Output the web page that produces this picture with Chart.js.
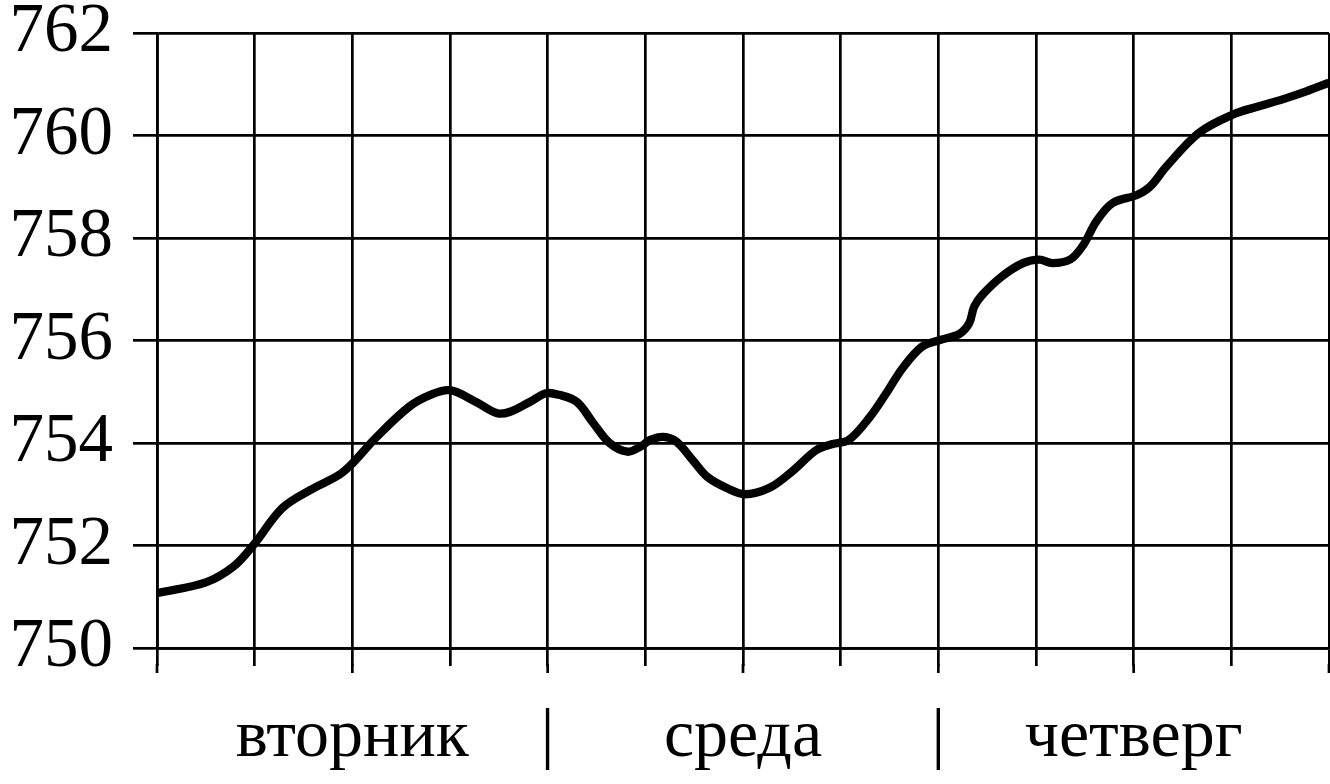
<!DOCTYPE html>
<html>
<head>
<meta charset="utf-8">
<script src="https://cdn.jsdelivr.net/npm/chart.js@4/dist/chart.umd.min.js"></script>
<style>
  html, body { margin: 0; padding: 0; background: #fff; }
  #wrap { width: 1330px; height: 784px; }
</style>
</head>
<body>
<div id="wrap"><canvas id="pressureChart"></canvas></div>
<script>
// Давление (мм рт. ст.) по часам, начиная с 0 ч вторника
const hours = [0, 3, 4.7, 5.9, 7.7, 9.4, 11.2, 12, 13.5, 15.5, 16.8, 18, 19.6, 20.9, 21.7, 22.9, 23.9,
  24.7, 25.8, 26.8, 27.8, 28.9, 29.7, 30.3, 31.1, 31.9, 32.9, 33.8, 35, 36.1, 37.6, 39, 40.5, 41.5,
  42.5, 43.8, 44.8, 45.8, 47, 48.1, 49.3, 49.9, 50.2, 50.7, 51.9, 53.2, 54.2, 55, 56.1, 56.9, 57.7,
  58.7, 60.2, 61, 62, 64, 66.1, 67.7, 69.1, 70.6, 72];
const pressure = [751.07, 751.28, 751.59, 752.0, 752.73, 753.08, 753.38, 753.6, 754.12, 754.71, 754.94,
  755.03, 754.8, 754.58, 754.61, 754.8, 754.97, 754.94, 754.8, 754.39, 754.0, 753.83, 753.93, 754.06,
  754.12, 754.03, 753.67, 753.34, 753.12, 753.0, 753.12, 753.44, 753.86, 753.98, 754.06, 754.51,
  754.97, 755.46, 755.88, 756.01, 756.13, 756.34, 756.66, 756.89, 757.25, 757.51, 757.58, 757.51,
  757.58, 757.86, 758.32, 758.68, 758.84, 759.0, 759.39, 760.05, 760.41, 760.57, 760.7, 760.86, 761.03];

// подписи по оси X
const dayNames = ['вторник', 'среда', 'четверг'];
const dayMiddles = [12, 36, 60];
const daySeparators = [24, 48];

const FONT = '"Liberation Serif", "Times New Roman", serif';

// длинные засечки на каждом втором делении оси X
const longTicks = {
    id: 'longTicks',
    afterDraw(chart) {
        const sx = chart.scales.x;
        const ctx = chart.ctx;
        const bottom = chart.chartArea.bottom;
        ctx.save();
        ctx.strokeStyle = '#000';
        ctx.lineWidth = 2.7;
        sx.ticks.forEach((t, i) => {
            if (i % 2 !== 0) return;
            const px = sx.getPixelForValue(t.value);
            ctx.beginPath();
            ctx.moveTo(px, bottom + 16);
            ctx.lineTo(px, bottom + 25);
            ctx.stroke();
        });
        ctx.restore();
    }
};

new Chart(document.getElementById('pressureChart'), {
    type: 'line',
    data: {
        datasets: [{
            data: hours.map((h, i) => ({ x: h, y: pressure[i] })),
            borderColor: '#000',
            borderWidth: 8.3,
            pointRadius: 0,
            tension: 0.35,
            fill: false
        }]
    },
    options: {
        responsive: true,
        maintainAspectRatio: false,
        animation: false,
        layout: { padding: { top: 33, right: 1, bottom: 0, left: 0 } },
        plugins: { legend: { display: false }, tooltip: { enabled: false } },
        scales: {
            x: {
                type: 'linear',
                min: 0,
                max: 72,
                grid: { color: '#000', lineWidth: 2.7, tickLength: 18, tickColor: '#000' },
                border: { color: '#000', width: 2.7 },
                ticks: {
                    stepSize: 6,
                    autoSkip: false,
                    maxRotation: 0,
                    minRotation: 0,
                    padding: 38,
                    color: '#000',
                    font: { family: FONT, size: 68, lineHeight: 1 },
                    callback: (v) => {
                        const d = dayMiddles.indexOf(v);
                        if (d >= 0) return dayNames[d];
                        if (daySeparators.includes(v)) return '|';
                        return '';
                    }
                },
                afterFit: (s) => {
                    s.height = 136;
                    s.paddingLeft = 0;
                    s.paddingRight = 0;
                }
            },
            y: {
                min: 750,
                max: 762,
                grid: {
                    color: '#000',
                    lineWidth: 2.7,
                    tickLength: 24,
                    tickColor: (c) => (c.tick && c.tick.value % 2 === 0) ? '#000' : 'rgba(0,0,0,0)'
                },
                border: { color: '#000', width: 2.7 },
                ticks: {
                    stepSize: 1,
                    padding: 20,
                    color: '#000',
                    font: { family: FONT, size: 69, lineHeight: 1 },
                    callback: (v) => v % 2 === 0 ? v : ''
                },
                afterFit: (s) => {
                    s.width = 157;
                    s.paddingTop = 0;
                    s.paddingBottom = 0;
                }
            }
        }
    },
    plugins: [longTicks]
});
</script>
</body>
</html>
